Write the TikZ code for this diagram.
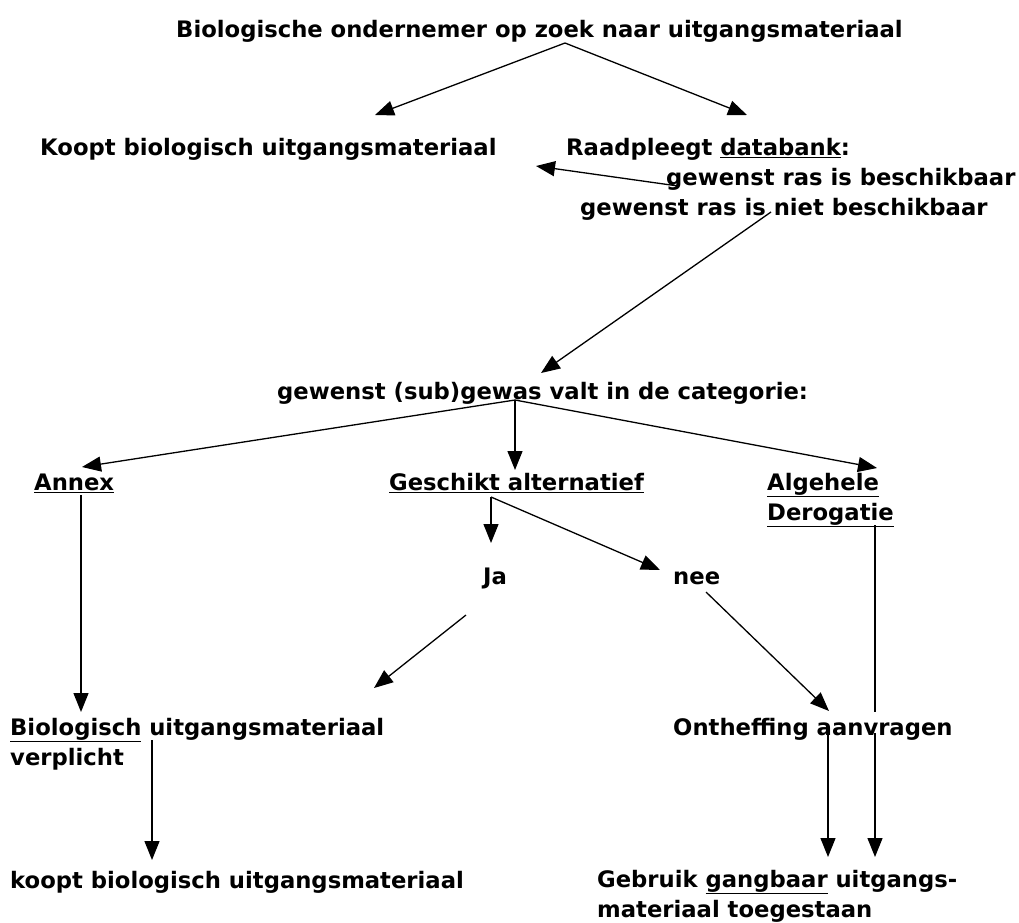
\documentclass[tikz,border=0pt]{standalone}
\usepackage{fontspec}
\setmainfont{DejaVu Sans}
\usetikzlibrary{arrows.meta}
\begin{document}
\begin{tikzpicture}[x=1pt,y=-1pt,
  txt/.style={inner sep=0pt,anchor=base west,font=\fontsize{22.7}{30}\selectfont\bfseries,align=left},
  arr/.style={-{Triangle[length=19pt,width=15pt]},line width=1.3pt},
  ln/.style={line width=1.3pt}]
\useasboundingbox (0,0) rectangle (1019,922);
% nodes
\node[txt] (top) at (176,37) {Biologische ondernemer op zoek naar uitgangsmateriaal};
\node[txt] (koopt) at (40,155) {Koopt biologisch uitgangsmateriaal};
\node[txt] (raad) at (566,155) {Raadpleegt \underline{databank}:};
\node[txt] (besch) at (666,185) {gewenst ras is beschikbaar};
\node[txt] (niet) at (580,215) {gewenst ras is niet beschikbaar};
\node[txt] (cat) at (277,399) {gewenst (sub)gewas valt in de categorie:};
\node[txt] (annex) at (34,490) {\underline{Annex}};
\node[txt] (gesch) at (389,490) {\underline{Geschikt alternatief}};
\node[txt] (alg) at (767,520) {\underline{Algehele}\\\underline{Derogatie}};
\node[txt] (ja) at (483,584) {Ja};
\node[txt] (nee) at (673,584) {nee};
\node[txt] (bio) at (10,765) {\underline{Biologisch} uitgangsmateriaal\\verplicht};
\node[txt] (onth) at (673,735) {Ontheffing aanvragen};
\node[txt] (koopt2) at (10,888) {koopt biologisch uitgangsmateriaal};
\node[txt] (gebr) at (597,917) {Gebruik \underline{gangbaar} uitgangs-\\materiaal toegestaan};
% coordinates
\coordinate (topc) at (565,43);
\coordinate (kooptc) at (375,115);
\coordinate (raadc) at (747,115);
\coordinate (beschc) at (678,186);
\coordinate (kooptr) at (536,166);
\coordinate (nietc) at (771,212);
\coordinate (catn) at (541,373);
\coordinate (cats) at (515,400);
\coordinate (annexn) at (82,467);
\coordinate (geschn) at (515,470);
\coordinate (algn) at (877,468);
\coordinate (geschs) at (491,497);
\coordinate (jan) at (491,543);
\coordinate (neen) at (660,570);
\coordinate (jas) at (466,615);
\coordinate (bion) at (374,688);
\coordinate (nees) at (706,592);
\coordinate (onthn) at (829,711);
\coordinate (annexs) at (81,495);
\coordinate (bioa) at (81,712);
\coordinate (algs) at (875,525);
\coordinate (algb) at (875,712);
\coordinate (ontha) at (875,733);
\coordinate (onthb) at (828,733);
\coordinate (gebra) at (828,857);
\coordinate (gebrb) at (875,857);
\coordinate (bios) at (152,740);
\coordinate (koopt2n) at (152,860);
% connectors
\draw[arr] (topc) -- (kooptc);
\draw[arr] (topc) -- (raadc);
\draw[arr] (beschc) -- (kooptr);
\draw[arr] (nietc) -- (catn);
\draw[arr] (cats) -- (annexn);
\draw[arr] (cats) -- (geschn);
\draw[arr] (cats) -- (algn);
\draw[arr] (geschs) -- (jan);
\draw[arr] (geschs) -- (neen);
\draw[arr] (jas) -- (bion);
\draw[arr] (nees) -- (onthn);
\draw[arr] (annexs) -- (bioa);
\draw[ln] (algs) -- (algb);
\draw[arr] (ontha) -- (gebrb);
\draw[arr] (onthb) -- (gebra);
\draw[arr] (bios) -- (koopt2n);
\end{tikzpicture}
\end{document}
